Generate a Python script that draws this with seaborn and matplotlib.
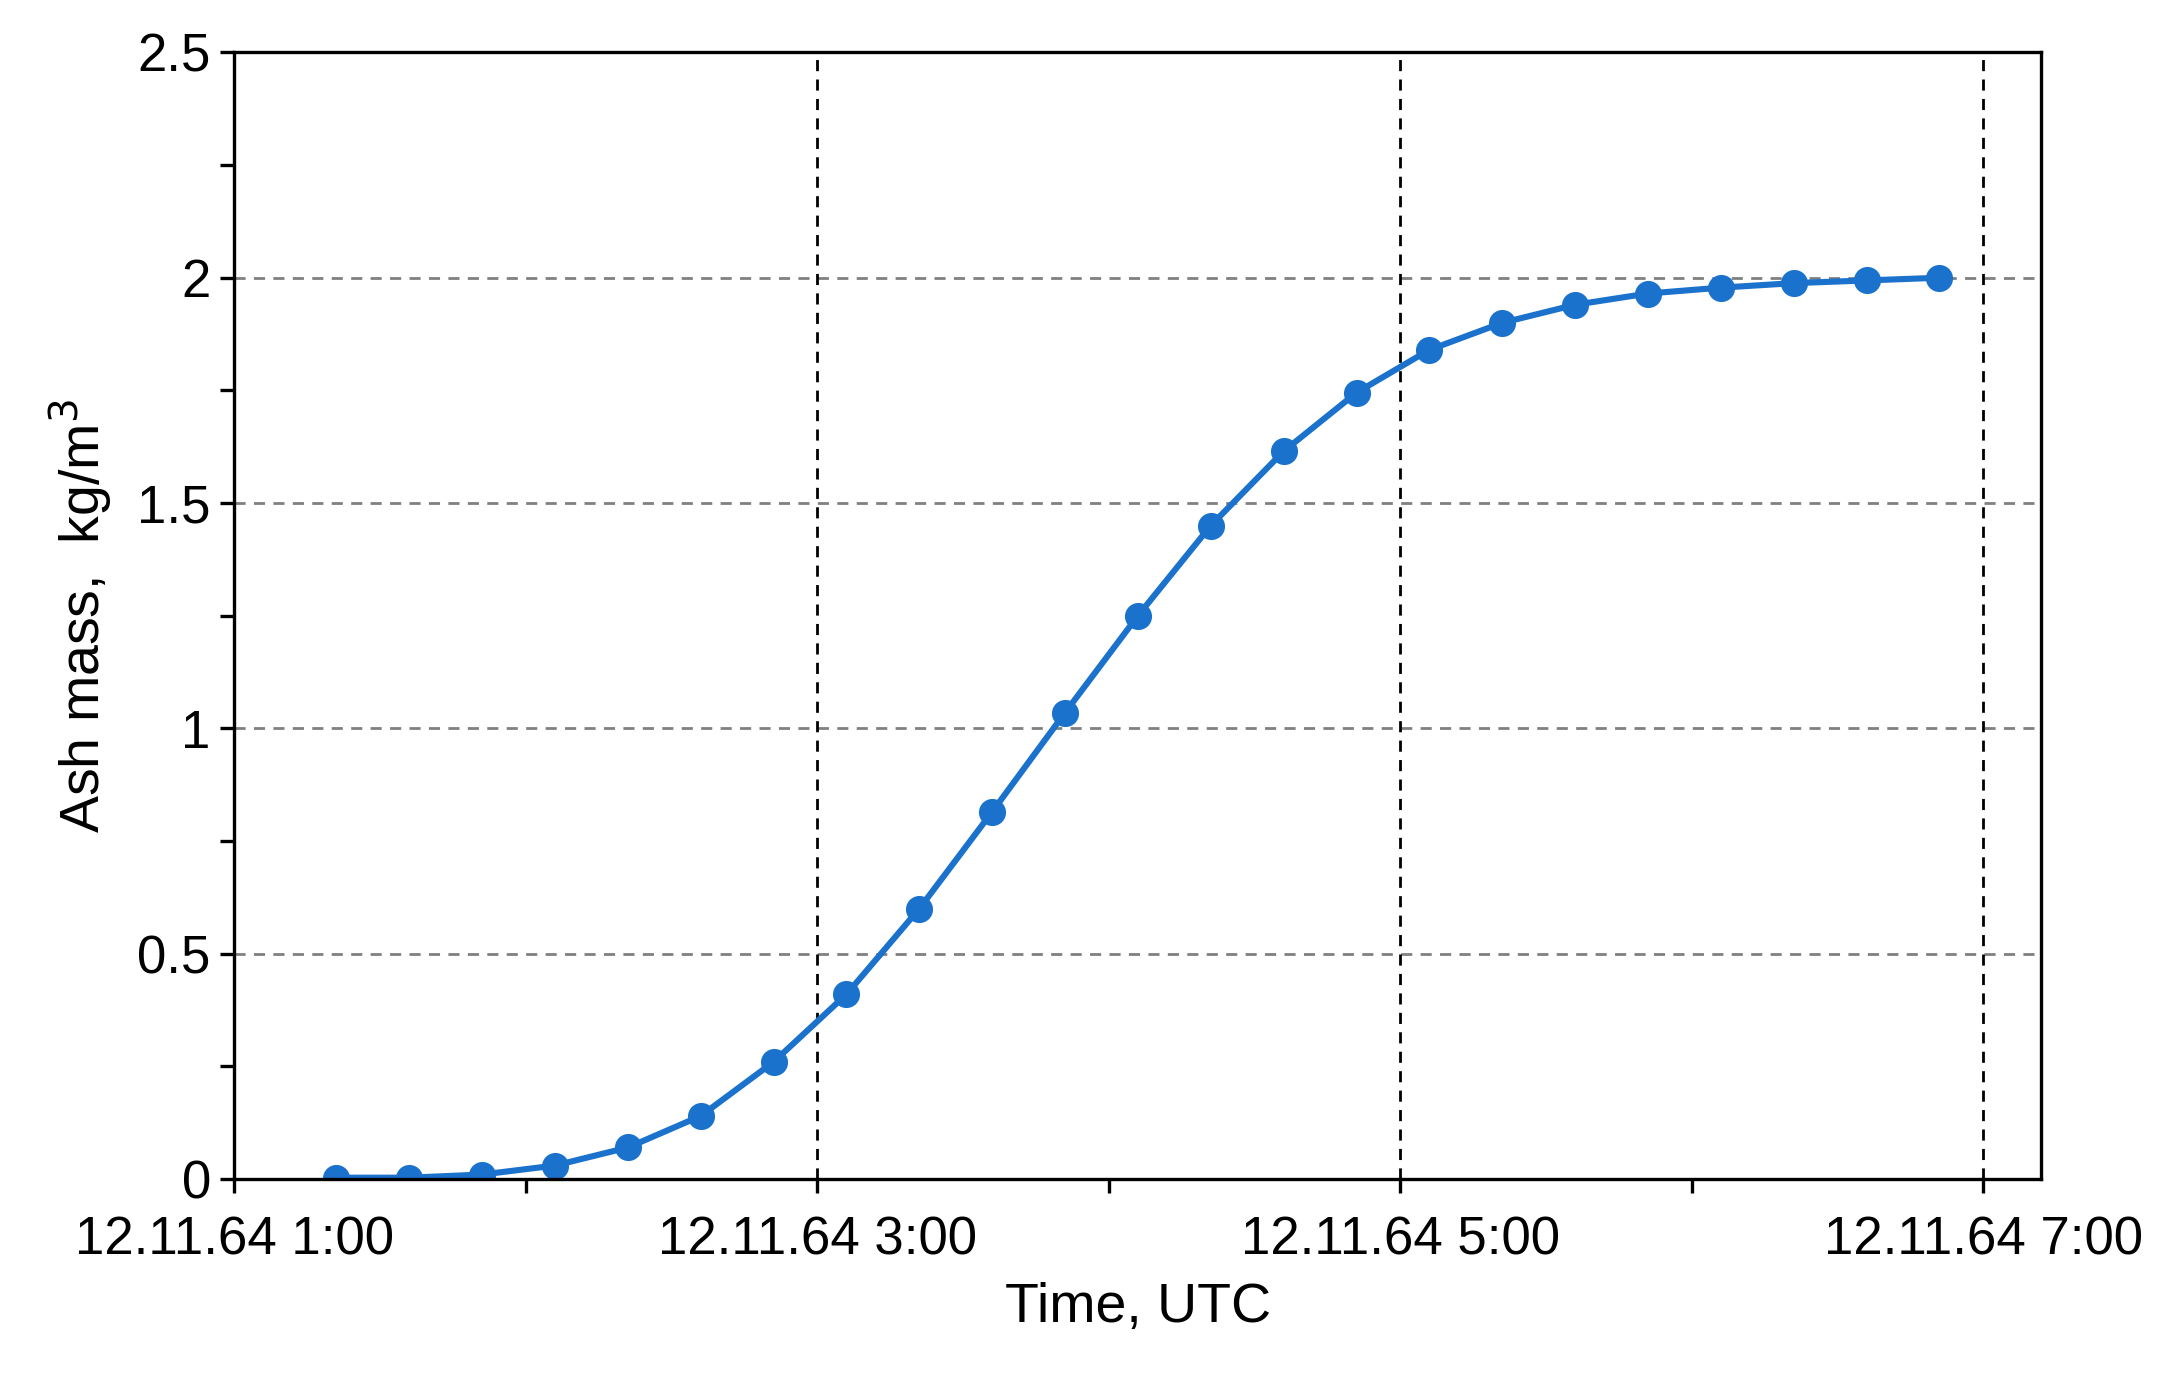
import matplotlib
matplotlib.use("Agg")
import matplotlib.pyplot as plt
import seaborn as sns
import pandas as pd
from matplotlib.ticker import MultipleLocator, FixedLocator, FuncFormatter

sns.set_style("white")
plt.rcParams['font.family'] = ['Liberation Sans', 'DejaVu Sans']
plt.rcParams['text.color'] = 'black'
plt.rcParams['axes.labelcolor'] = 'black'
plt.rcParams['xtick.color'] = 'black'
plt.rcParams['ytick.color'] = 'black'

# hours after 00:00 UTC on 12.11.64, every 15 minutes from 1:21
hours = [1.35 + 0.25 * i for i in range(23)]
ash_mass = [0.003, 0.003, 0.01, 0.03, 0.07, 0.14, 0.26, 0.41, 0.60, 0.815,
            1.035, 1.25, 1.45, 1.615, 1.745, 1.84, 1.90, 1.94, 1.965, 1.978,
            1.988, 1.994, 2.0]
tick_hours = [1, 3, 5, 7]
tick_labels = ["12.11.64 1:00", "12.11.64 3:00", "12.11.64 5:00", "12.11.64 7:00"]

df = pd.DataFrame({"t": hours, "m": ash_mass})
fig = plt.figure(figsize=(10.905, 6.895), dpi=200)
ax = fig.add_axes([0.1075, 0.145, 0.8285, 0.817])

ax.set_xlim(1, 7.2)
ax.set_ylim(0, 2.5)
for y in [0.5, 1.0, 1.5, 2.0]:
    ax.axhline(y, color='#808080', ls=(0, (4, 3)), lw=1.0, zorder=0)
for x in tick_hours[1:]:
    ax.axvline(x, color='black', ls=(0, (4, 3)), lw=1.0, zorder=0)

sns.lineplot(data=df, x="t", y="m", ax=ax, color='#1a72cc', lw=2.2,
             marker='o', markersize=9, markeredgecolor='#1a72cc')

ax.xaxis.set_major_locator(FixedLocator(tick_hours))
ax.set_xticklabels(tick_labels)
ax.xaxis.set_minor_locator(MultipleLocator(1))
ax.yaxis.set_major_locator(MultipleLocator(0.5))
ax.yaxis.set_minor_locator(MultipleLocator(0.25))
ax.yaxis.set_major_formatter(FuncFormatter(lambda v, p: f"{v:g}"))
ax.tick_params(axis='both', which='both', direction='out', bottom=True, left=True,
               length=5, width=1.2, labelsize=19, color='black', labelcolor='black')
ax.tick_params(axis='x', pad=8)
for s in ax.spines.values():
    s.set_color('black'); s.set_linewidth(1.2)
ax.set_xlabel("Time, UTC", fontsize=20, labelpad=6)
ax.set_ylabel("Ash mass,  kg/m$^3$", fontsize=20, labelpad=8)
fig.savefig("out.png", dpi=200)
